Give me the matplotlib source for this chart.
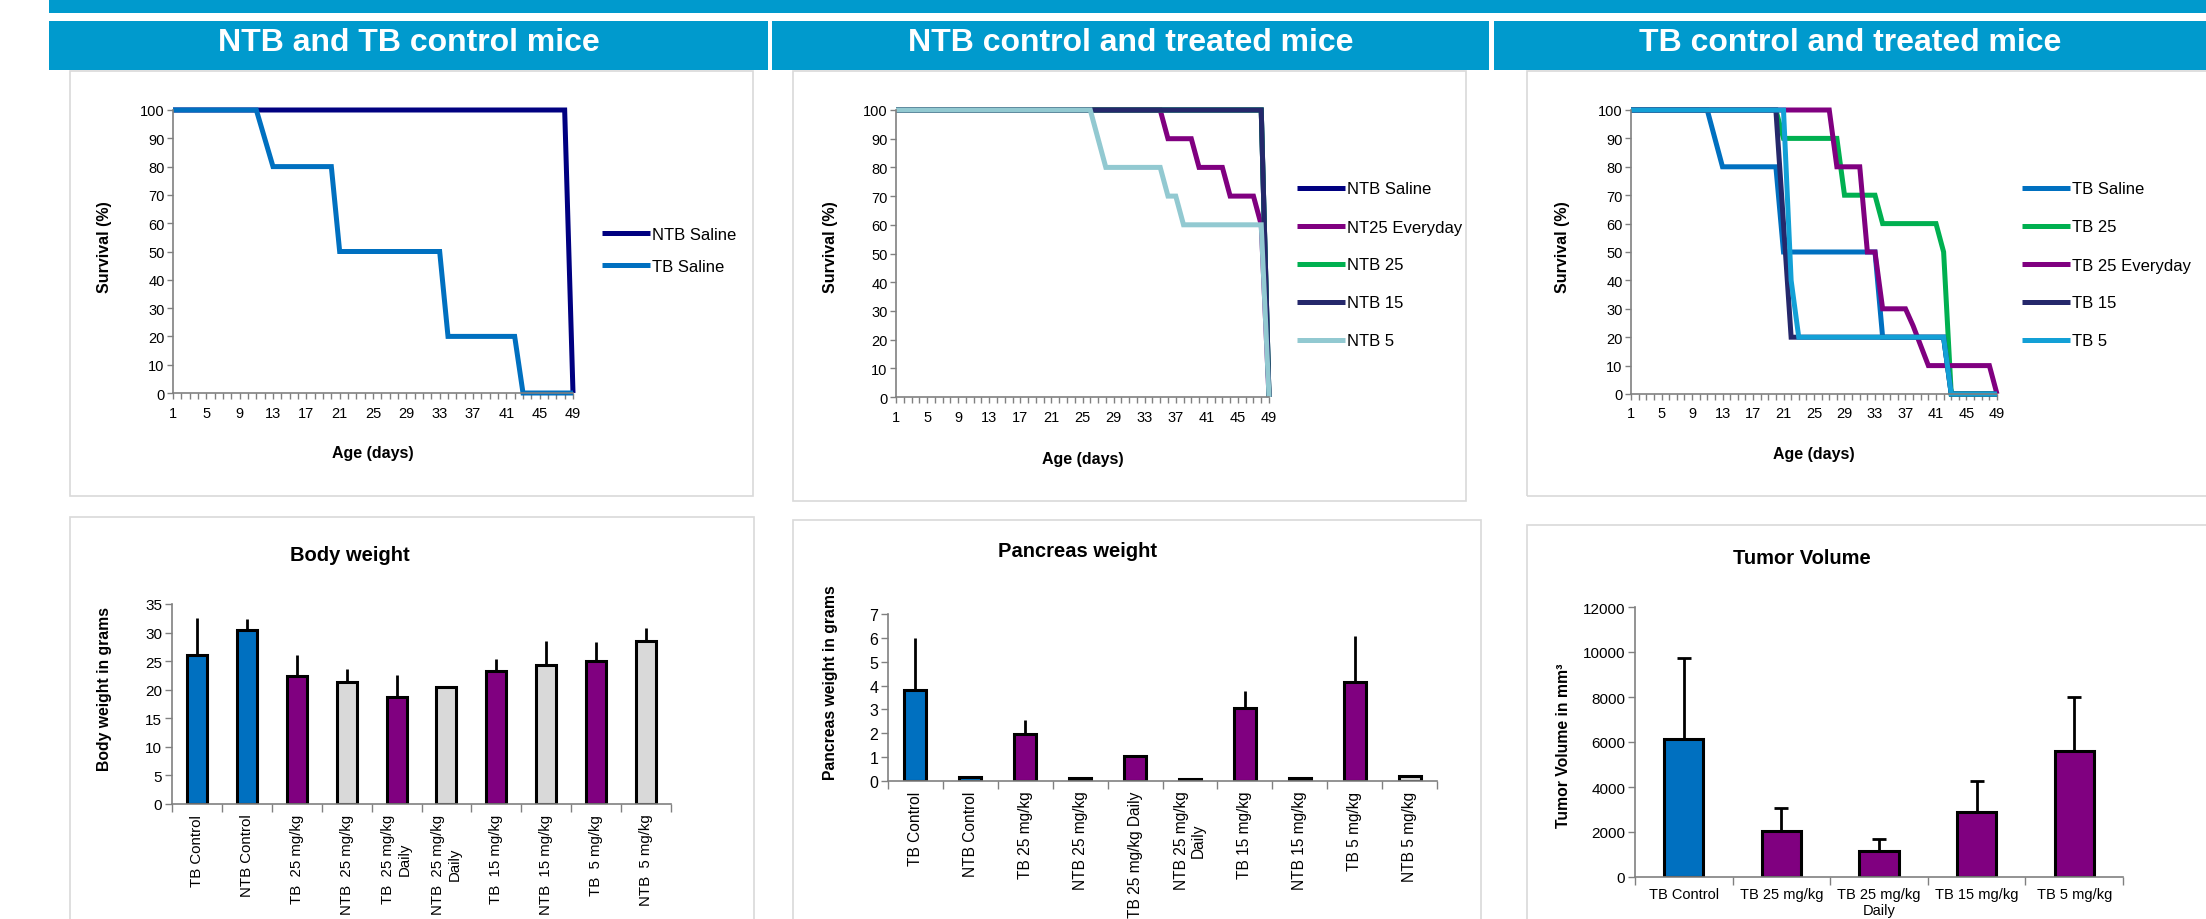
import matplotlib
matplotlib.use('Agg')
import matplotlib.pyplot as plt
import numpy as np
from matplotlib.patches import Rectangle

plt.rcParams['font.family'] = ['Liberation Sans', 'DejaVu Sans']

W, H = 2206, 920
BLUE_BAR = '#009ACD'
GRID_GRAY = '#808080'

# ---- survival curves: (day, % surviving) at the points where a curve bends ----
days_ntb_saline = [1, 48, 49]
surv_ntb_saline = [100, 100, 0]
days_tb_saline = [1, 11, 13, 20, 21, 33, 34, 42, 43, 49]
surv_tb_saline = [100, 100, 80, 80, 50, 50, 20, 20, 0, 0]

days_nt25_everyday = [1, 35, 36, 39, 40, 43, 44, 47, 48, 49]
surv_nt25_everyday = [100, 100, 90, 90, 80, 80, 70, 70, 60, 0]
days_ntb25 = [1, 48, 49]
surv_ntb25 = [100, 100, 0]
days_ntb15 = [1, 48, 49]
surv_ntb15 = [100, 100, 0]
days_ntb5 = [1, 26, 28, 35, 36, 37, 38, 48, 49]
surv_ntb5 = [100, 100, 80, 80, 70, 70, 60, 60, 0]

days_tb25 = [1, 20, 21, 28, 29, 33, 34, 41, 42, 43, 49]
surv_tb25 = [100, 100, 90, 90, 70, 70, 60, 60, 50, 0, 0]
days_tb25_everyday = [1, 27, 28, 31, 32, 33, 34, 37, 38, 39, 40, 48, 49]
surv_tb25_everyday = [100, 100, 80, 80, 50, 50, 30, 30, 24, 17, 10, 10, 0]
days_tb15 = [1, 20, 21, 22, 42, 43, 49]
surv_tb15 = [100, 100, 60, 20, 20, 0, 0]
days_tb5 = [1, 21, 22, 23, 42, 43, 49]
surv_tb5 = [100, 100, 40, 20, 20, 0, 0]

# ---- bar charts ----
bw_labels = ['TB Control', 'NTB Control', 'TB  25 mg/kg', 'NTB  25 mg/kg',
             'TB  25 mg/kg\nDaily', 'NTB  25 mg/kg\nDaily', 'TB  15 mg/kg',
             'NTB  15 mg/kg', 'TB  5 mg/kg', 'NTB  5 mg/kg']
bw_mean = [26.0, 30.4, 22.4, 21.4, 18.7, 20.5, 23.3, 24.3, 25.1, 28.5]
bw_err = [6.5, 2.0, 3.7, 2.3, 3.8, 0, 2.0, 4.3, 3.2, 2.3]

pw_labels = ['TB Control', 'NTB Control', 'TB 25 mg/kg', 'NTB 25 mg/kg',
             'TB 25 mg/kg Daily', 'NTB 25 mg/kg\nDaily', 'TB 15 mg/kg',
             'NTB 15 mg/kg', 'TB 5 mg/kg', 'NTB 5 mg/kg']
pw_mean = [3.80, 0.18, 1.99, 0.14, 1.05, 0.10, 3.04, 0.14, 4.15, 0.19]
pw_err = [2.2, 0, 0.57, 0, 0, 0, 0.72, 0, 1.94, 0]

tv_labels = ['TB Control', 'TB 25 mg/kg', 'TB 25 mg/kg\nDaily', 'TB 15 mg/kg', 'TB 5 mg/kg']
tv_mean = [6120, 2065, 1150, 2910, 5620]
tv_err = [3630, 1000, 560, 1370, 2400]

C_TB = '#0070C0'
C_NTB = '#000080'
C_PURPLE = '#800080'
C_GREEN = '#00B050'
C_DARK = '#25286B'
C_NTB5 = '#92C9D1'
C_TB5 = '#13A0D6'
C_GRAY = '#D9D9D9'

fig = plt.figure(figsize=(W / 100, H / 100), dpi=100)


def box(x0, y0, x1, y1, **kw):
    fig.patches.append(Rectangle((x0 / W, 1 - y1 / H), (x1 - x0) / W, (y1 - y0) / H,
                                 transform=fig.transFigure, **kw))


def axes_px(x0, y0, x1, y1):
    return fig.add_axes([x0 / W, 1 - y1 / H, (x1 - x0) / W, (y1 - y0) / H])


def ftext(x, y, s, **kw):
    fig.text(x / W, 1 - y / H, s, **kw)


# header strip and section titles
box(49, 0, W, 14, color=BLUE_BAR, lw=0)
headers = [(49, 768, 'NTB and TB control mice'),
           (772, 1489, 'NTB control and treated mice'),
           (1494, W, 'TB control and treated mice')]
for x0, x1, t in headers:
    box(x0, 22, x1, 71, color=BLUE_BAR, lw=0)
    ftext((x0 + x1) / 2, 43, t, color='white', fontsize=23, weight='bold',
          ha='center', va='center')

# panel frames
for x0, y0, x1, y1 in [(70, 72, 753, 497), (793, 72, 1466, 502), (1527, 72, W + 5, 497),
                       (70, 518, 754, H + 5), (793, 521, 1481, H + 5), (1527, 526, W + 5, H + 5)]:
    box(x0, y0, x1, y1, fill=False, edgecolor='#D9D9D9', lw=1.2)


def style_axes(ax):
    for s in ['top', 'right']:
        ax.spines[s].set_visible(False)
    for s in ['left', 'bottom']:
        ax.spines[s].set_color(GRID_GRAY)
        ax.spines[s].set_linewidth(1.2)


def survival(rect, series, leg_xy, leg_space, ylab_x, xlab_y):
    ax = axes_px(*rect)
    for d, v, c, name in series:
        ax.plot(d, v, color=c, lw=3.6, label=name, clip_on=False,
                solid_capstyle='butt', solid_joinstyle='miter')
    ax.set_xlim(1, 49)
    ax.set_ylim(0, 100)
    ax.set_xticks(range(1, 50))
    ax.set_xticklabels([str(d) if (d - 1) % 4 == 0 else '' for d in range(1, 50)])
    ax.set_yticks(range(0, 101, 10))
    ax.tick_params(axis='x', direction='out', length=4, width=1, color=GRID_GRAY,
                   labelsize=10.5, pad=5)
    ax.tick_params(axis='y', direction='out', length=4, width=1, color=GRID_GRAY,
                   labelsize=10.5, pad=2)
    style_axes(ax)
    ax.legend(loc='center left', bbox_to_anchor=(leg_xy[0] / W, 1 - leg_xy[1] / H),
              bbox_transform=fig.transFigure, frameon=False, fontsize=12,
              handlelength=2.85, handletextpad=0.15, labelspacing=leg_space,
              borderpad=0, borderaxespad=0)
    ftext(ylab_x, 247, 'Survival (%)', rotation=90, fontsize=11.5, weight='bold',
          ha='center', va='center')
    ftext((rect[0] + rect[2]) / 2, xlab_y, 'Age (days)', fontsize=11.5, weight='bold',
          ha='center', va='center')
    return ax


survival((173, 111, 573, 394),
         [(days_ntb_saline, surv_ntb_saline, C_NTB, 'NTB Saline'),
          (days_tb_saline, surv_tb_saline, C_TB, 'TB Saline')],
         (602, 251), 1.02, 104, 454)

survival((896, 111, 1269, 398),
         [(days_ntb_saline, surv_ntb_saline, C_NTB, 'NTB Saline'),
          (days_nt25_everyday, surv_nt25_everyday, C_PURPLE, 'NT25 Everyday'),
          (days_ntb25, surv_ntb25, C_GREEN, 'NTB 25'),
          (days_ntb15, surv_ntb15, C_DARK, 'NTB 15'),
          (days_ntb5, surv_ntb5, C_NTB5, 'NTB 5')],
         (1297, 266), 1.38, 830, 460)

survival((1631, 111, 1997, 395),
         [(days_tb_saline, surv_tb_saline, C_TB, 'TB Saline'),
          (days_tb25, surv_tb25, C_GREEN, 'TB 25'),
          (days_tb25_everyday, surv_tb25_everyday, C_PURPLE, 'TB 25 Everyday'),
          (days_tb15, surv_tb15, C_DARK, 'TB 15'),
          (days_tb5, surv_tb5, C_TB5, 'TB 5')],
         (2022, 266), 1.38, 1563, 455)


def bars(rect, labels, vals, errs, colors, ymax, ystep, rot, capsize, tsize, ysize):
    ax = axes_px(*rect)
    x = np.arange(len(vals))
    ax.bar(x, vals, width=0.4, color=colors, edgecolor='black', linewidth=2.2, zorder=2)
    ax.errorbar(x, vals, yerr=[np.zeros(len(vals)), errs], fmt='none', ecolor='black',
                elinewidth=2, capsize=capsize, capthick=2, zorder=1)
    ax.set_xlim(-0.5, len(vals) - 0.5)
    ax.set_ylim(0, ymax)
    ax.set_yticks(np.arange(0, ymax + ystep / 2, ystep))
    ax.set_xticks(x)
    if rot:
        ax.set_xticklabels(labels, rotation=90, ha='center', va='top',
                           multialignment='center', fontsize=tsize)
    else:
        ax.set_xticklabels(labels, fontsize=tsize, multialignment='center')
    ax.set_xticks(np.arange(-0.5, len(vals), 1), minor=True)
    ax.tick_params(axis='x', which='major', length=0, pad=7)
    ax.tick_params(axis='x', which='minor', direction='out', length=6, width=1,
                   color=GRID_GRAY)
    ax.tick_params(axis='y', direction='out', length=5, width=1, color=GRID_GRAY,
                   labelsize=ysize, pad=2)
    style_axes(ax)
    return ax


bw_colors = [C_TB, C_TB] + [C_PURPLE, C_GRAY] * 4
bars((172, 605, 671, 805), bw_labels, bw_mean, bw_err, bw_colors, 35, 5, True, 0, 10.8, 11)
ftext(350, 556, 'Body weight', fontsize=14.5, weight='bold', ha='center', va='center')
ftext(104, 689, 'Body weight in grams', rotation=90, fontsize=11.3, weight='bold',
      ha='center', va='center')

pw_colors = [C_TB, C_TB] + [C_PURPLE, C_GRAY] * 4
bars((888, 615, 1437, 782), pw_labels, pw_mean, pw_err, pw_colors, 7, 1, True, 0, 11.2, 11.5)
ftext(1078, 552, 'Pancreas weight', fontsize=14.5, weight='bold', ha='center', va='center')
ftext(830, 683, 'Pancreas weight in grams', rotation=90, fontsize=11.3, weight='bold',
      ha='center', va='center')

tv_colors = [C_TB] + [C_PURPLE] * 4
bars((1635, 608, 2123, 878), tv_labels, tv_mean, tv_err, tv_colors, 12000, 2000, False, 5, 10.5, 11)
ftext(1802, 559, 'Tumor Volume', fontsize=14.5, weight='bold', ha='center', va='center')
ftext(1563, 746, 'Tumor Volume in mm³', rotation=90, fontsize=11.3, weight='bold',
      ha='center', va='center')

fig.savefig('out.png', dpi=100)
plt.close(fig)
